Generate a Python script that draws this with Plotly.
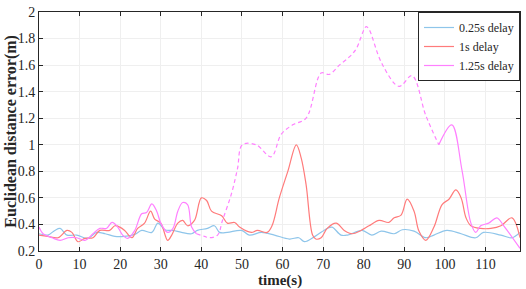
import plotly.graph_objects as go

# 0.25s delay
t_blue = [0, 2.2, 3.9, 5.2, 6.9, 9.3, 12, 14.2, 16.3, 18.7, 21, 23.6, 25.3, 27.8, 29.3, 31, 33, 35.1,
          37.6, 39, 41.5, 43.2, 44.5, 46.4, 49.9, 51.8, 54.8, 58, 61.7, 64, 65.4, 68, 71, 72.2, 74.4,
          76, 79.6, 82, 84.3, 87.5, 89.5, 92.4, 95.3, 97.3, 100.5, 104, 107.6, 109.5, 113.8, 116.5, 118.5]
v_blue = [0.33, 0.32, 0.355, 0.37, 0.32, 0.32, 0.295, 0.34, 0.33, 0.31, 0.31, 0.325, 0.355, 0.34, 0.41,
          0.36, 0.355, 0.34, 0.33, 0.355, 0.37, 0.39, 0.34, 0.34, 0.355, 0.32, 0.34, 0.32, 0.29, 0.30,
          0.27, 0.31, 0.37, 0.38, 0.32, 0.32, 0.355, 0.32, 0.35, 0.33, 0.36, 0.35, 0.30, 0.32, 0.355,
          0.33, 0.30, 0.34, 0.32, 0.30, 0.34]

# 1s delay
t_red = [0, 2.2, 4.7, 6.9, 8.1, 9.6, 11.3, 13.3, 15, 17.4, 18.7, 19.9, 21.1, 22.9, 24.3, 26, 27.5, 28.5,
         30, 31.7, 32.7, 34.2, 35.4, 36.6, 38.3, 40, 41.3, 42.5, 45, 46.4, 48.2, 49.4, 52.3, 53.8, 56.2,
         57.4, 59.2, 61.3, 63.4, 64.6, 65.8, 67.4, 68.2, 69.5, 71, 73.2, 75.2, 77.2, 79.3, 81.3, 83.8,
         86.2, 87.5, 89.2, 90.7, 92.4, 93.6, 95.3, 97.3, 99.3, 101, 102.7, 104, 105.2, 106.4, 108.8,
         111.3, 113.8, 116.5, 118.5]
v_red = [0.32, 0.31, 0.30, 0.355, 0.34, 0.27, 0.295, 0.30, 0.355, 0.355, 0.39, 0.38, 0.355, 0.30, 0.37,
         0.41, 0.50, 0.44, 0.41, 0.28, 0.32, 0.41, 0.43, 0.39, 0.43, 0.60, 0.58, 0.50, 0.465, 0.41, 0.415,
         0.38, 0.34, 0.355, 0.34, 0.39, 0.60, 0.80, 1.0, 0.90, 0.70, 0.32, 0.29, 0.30, 0.37, 0.41, 0.355,
         0.33, 0.355, 0.39, 0.43, 0.415, 0.45, 0.47, 0.59, 0.50, 0.35, 0.28, 0.38, 0.55, 0.59, 0.66, 0.60,
         0.45, 0.39, 0.37, 0.37, 0.39, 0.45, 0.30]

# 1.25s delay
t_mag = [0, 1, 3.2, 5.2, 7.2, 9.3, 11.3, 13.3, 15, 16.6, 18, 19.4, 20.6, 21.9, 23.6, 25.3, 26.5, 27.8,
         29, 30, 31.7, 33, 34.2, 35.4, 36.6, 37.6, 38.8, 40.8, 42, 44, 45.2, 47.4, 48.9, 50.1, 53.5, 57.2,
         59.7, 62.5, 65.8, 69.5, 71.5, 74, 76.4, 78.1, 80.6, 81.3, 84.5, 88.7, 91.9, 95.3, 98.5, 101.7,
         104.2, 106.4, 107.6, 108.8, 110.8, 112.8, 114.5, 118.5]
v_mag = [0.38, 0.33, 0.30, 0.28, 0.30, 0.30, 0.28, 0.33, 0.37, 0.37, 0.415, 0.38, 0.32, 0.295, 0.355,
         0.48, 0.49, 0.555, 0.50, 0.41, 0.34, 0.37, 0.50, 0.565, 0.55, 0.38, 0.33, 0.31, 0.30, 0.32, 0.43,
         0.63, 0.82, 1.0, 1.0, 0.91, 1.08, 1.15, 1.2, 1.54, 1.53, 1.6, 1.66, 1.72, 1.89, 1.87, 1.61, 1.44,
         1.52, 1.22, 1.0, 1.15, 0.81, 0.41, 0.34, 0.39, 0.41, 0.45, 0.39, 0.22]
dash_from, dash_to = 38.8, 98.5

x_ticks = list(range(0, 111, 10))
y_ticks = [0.2, 0.4, 0.6, 0.8, 1, 1.2, 1.4, 1.6, 1.8, 2]
y_labels = ["0.2", "0.4", "0.6", "0.8", "1", "1.2", "1.4", "1.6", "1.8", "2"]

font = "Liberation Serif"
ink = "#262626"
c_blue, c_red, c_mag = "#8ec5ea", "#ff7b7b", "#ff80ff"

mag_solid = [v if (t <= dash_from or t >= dash_to) else None for t, v in zip(t_mag, v_mag)]
mag_dash = [v if dash_from <= t <= dash_to else None for t, v in zip(t_mag, v_mag)]

fig = go.Figure()
fig.add_trace(go.Scatter(x=t_blue, y=v_blue, mode="lines", name="0.25s delay",
                         line=dict(color=c_blue, width=1.2, shape="spline")))
fig.add_trace(go.Scatter(x=t_red, y=v_red, mode="lines", name="1s delay",
                         line=dict(color=c_red, width=1.2, shape="spline")))
fig.add_trace(go.Scatter(x=t_mag, y=mag_solid, mode="lines", name="1.25s delay",
                         line=dict(color=c_mag, width=1.2, shape="spline")))
fig.add_trace(go.Scatter(x=t_mag, y=mag_dash, mode="lines", showlegend=False,
                         line=dict(color=c_mag, width=1.2, shape="spline", dash="4px,3px")))

axis = dict(showline=True, mirror="ticks", linecolor=ink, linewidth=1,
            ticks="inside", ticklen=4, tickcolor=ink, ticklabeloverflow="allow",
            showgrid=True, gridcolor="#efefef", gridwidth=1, zeroline=False,
            tickfont=dict(family=font, size=14, color=ink))

fig.update_layout(
    width=526, height=289,
    margin=dict(l=39, r=5, t=7, b=38),
    paper_bgcolor="white", plot_bgcolor="white",
    xaxis=dict(axis, range=[0, 118.5], tickvals=x_ticks),
    yaxis=dict(axis, range=[0.2, 2], tickvals=y_ticks, ticktext=y_labels),
    legend=dict(x=1, y=1, xanchor="right", yanchor="top", bgcolor="white",
                bordercolor=ink, borderwidth=1, tracegroupgap=0, itemwidth=30,
                font=dict(family=font, size=12, color=ink)),
    annotations=[
        dict(text="<b>time(s)</b>", x=0.5, y=-0.125, xref="paper", yref="paper",
             xanchor="center", yanchor="middle", showarrow=False, borderpad=0,
             font=dict(family=font, size=15, color=ink)),
        dict(text="<b>Euclidean distance error(m)</b>", x=-0.06, y=0.5, xref="paper", yref="paper",
             xanchor="center", yanchor="middle", textangle=-90, showarrow=False, borderpad=0,
             font=dict(family=font, size=16, color=ink)),
    ],
)

# the page body has a default 8px margin; drop it so the figure sits at the window corner
fig.write_html("out.html", config={"displayModeBar": False},
               post_script="document.body.style.margin='0';")
